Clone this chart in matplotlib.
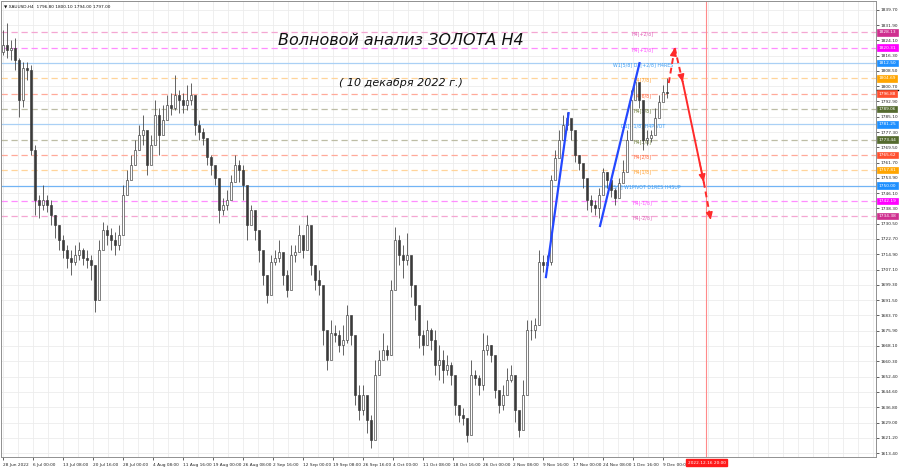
import numpy as np
import matplotlib
matplotlib.use('Agg')
import matplotlib.pyplot as plt
from matplotlib.transforms import blended_transform_factory

# ---------------- data ----------------
header_text = "\u25BC XAUUSD,H4  1796.80 1800.10 1794.00 1797.00"
title_main = "Волновой анализ ЗОЛОТА H4"
title_date = "( 10 декабря 2022 г.)"
cursor_date = "2022.12.16 20:00"

opens = [
    1818.0, 1821.7, 1819.1, 1820.2, 1814.0, 1793.6, 1809.9, 1808.9, 1768.1, 1742.6,
    1740.0, 1742.6, 1740.0, 1734.9, 1729.8, 1722.1, 1717.0, 1713.0, 1710.9, 1714.5,
    1717.0, 1713.0, 1711.9, 1709.4, 1691.5, 1717.0, 1727.3, 1724.7, 1722.1, 1719.6,
    1724.7, 1745.1, 1752.8, 1760.4, 1768.1, 1775.7, 1778.3, 1760.4, 1770.6, 1786.0,
    1775.7, 1783.4, 1791.1, 1789.5, 1796.2, 1793.6, 1791.1, 1793.6, 1796.2, 1780.8,
    1777.3, 1774.2, 1764.5, 1760.4, 1753.8, 1737.5, 1740.0, 1742.6, 1751.8, 1760.4,
    1757.9, 1750.2, 1729.8, 1737.5, 1727.3, 1717.0, 1704.3, 1694.1, 1710.9, 1713.0,
    1716.0, 1704.3, 1696.6, 1714.5, 1716.0, 1724.7, 1717.0, 1729.8, 1709.4, 1701.7,
    1699.1, 1676.2, 1660.9, 1674.7, 1673.6, 1668.5, 1671.1, 1683.8, 1673.6, 1643.0,
    1635.4, 1643.0, 1630.2, 1620.0, 1653.2, 1660.9, 1666.0, 1663.4, 1696.6, 1722.1,
    1714.5, 1711.9, 1714.5, 1699.1, 1688.9, 1673.6, 1668.5, 1676.2, 1671.1, 1658.3,
    1660.9, 1655.8, 1658.3, 1653.2, 1637.9, 1632.8, 1631.3, 1622.6, 1653.2, 1651.7,
    1648.1, 1666.0, 1668.5, 1663.4, 1645.6, 1637.9, 1643.0, 1650.7, 1653.2, 1635.4,
    1625.1, 1643.0, 1676.2, 1676.2, 1678.7, 1710.9, 1709.4, 1710.9, 1752.8, 1764.0,
    1773.2, 1780.8, 1784.4, 1778.3, 1765.5, 1761.5, 1753.8, 1742.6, 1740.0, 1738.5,
    1745.1, 1756.9, 1752.8, 1747.7, 1743.6, 1751.2, 1756.9, 1773.2, 1793.6, 1802.8,
    1793.6, 1773.2, 1774.2, 1775.7, 1784.4, 1792.6, 1797.7]

highs = [
    1829.3, 1832.9, 1824.2, 1825.3, 1815.0, 1813.0, 1813.0, 1811.5, 1770.6, 1745.1,
    1750.2, 1745.1, 1742.6, 1734.9, 1729.8, 1724.7, 1719.6, 1717.0, 1719.6, 1721.1,
    1718.1, 1717.0, 1714.5, 1706.8, 1722.1, 1731.3, 1729.8, 1728.3, 1726.2, 1729.8,
    1750.2, 1757.9, 1765.5, 1773.2, 1780.8, 1786.0, 1773.2, 1775.7, 1793.6, 1789.5,
    1791.1, 1796.2, 1797.2, 1806.4, 1798.7, 1797.2, 1801.3, 1802.3, 1793.6, 1783.4,
    1779.3, 1770.6, 1765.5, 1758.9, 1747.7, 1743.6, 1747.7, 1755.3, 1765.5, 1763.0,
    1760.4, 1742.6, 1740.0, 1732.4, 1722.1, 1714.5, 1704.3, 1714.5, 1717.0, 1722.1,
    1711.9, 1706.8, 1719.6, 1719.6, 1729.8, 1722.1, 1734.9, 1722.1, 1709.4, 1706.8,
    1691.5, 1671.1, 1681.3, 1678.7, 1676.2, 1678.7, 1688.9, 1678.7, 1653.2, 1648.1,
    1648.1, 1637.9, 1632.8, 1660.9, 1666.0, 1674.7, 1668.5, 1701.7, 1728.8, 1724.7,
    1719.6, 1725.7, 1709.4, 1696.6, 1683.8, 1676.2, 1681.3, 1677.2, 1676.2, 1668.5,
    1666.0, 1663.4, 1659.9, 1643.0, 1637.9, 1636.4, 1630.2, 1660.9, 1655.8, 1653.2,
    1674.7, 1673.6, 1668.5, 1655.8, 1643.0, 1648.1, 1656.8, 1658.3, 1640.5, 1632.8,
    1650.7, 1681.3, 1681.3, 1682.3, 1717.0, 1714.5, 1714.5, 1755.3, 1768.1, 1778.3,
    1786.0, 1787.5, 1783.4, 1770.6, 1765.5, 1757.9, 1750.2, 1745.1, 1742.6, 1748.7,
    1758.9, 1756.9, 1751.8, 1748.7, 1753.8, 1763.0, 1778.3, 1798.7, 1805.4, 1801.3,
    1791.1, 1778.3, 1778.3, 1789.5, 1796.2, 1801.3, 1804.8]

lows = [
    1816.6, 1815.0, 1814.0, 1808.9, 1784.9, 1790.0, 1803.8, 1765.5, 1734.9, 1733.4,
    1737.5, 1736.4, 1729.8, 1723.2, 1717.0, 1713.0, 1707.9, 1704.3, 1709.4, 1711.9,
    1709.4, 1707.9, 1701.7, 1685.4, 1691.5, 1719.6, 1719.6, 1717.0, 1714.5, 1717.0,
    1737.5, 1747.7, 1755.3, 1760.4, 1768.1, 1770.6, 1755.3, 1764.0, 1773.2, 1765.5,
    1778.3, 1786.0, 1786.0, 1788.5, 1787.0, 1787.0, 1788.5, 1791.1, 1775.7, 1773.2,
    1770.6, 1760.4, 1755.3, 1750.2, 1730.8, 1734.9, 1737.5, 1747.7, 1752.8, 1751.8,
    1742.6, 1722.1, 1732.4, 1722.1, 1710.9, 1699.1, 1690.0, 1704.3, 1709.4, 1710.9,
    1699.1, 1693.0, 1709.4, 1710.9, 1718.1, 1713.0, 1722.1, 1704.3, 1696.6, 1694.1,
    1668.5, 1655.8, 1668.5, 1670.1, 1665.0, 1663.4, 1669.6, 1668.5, 1637.9, 1630.2,
    1632.8, 1623.6, 1615.9, 1640.5, 1653.2, 1661.9, 1660.9, 1663.4, 1711.9, 1709.4,
    1702.7, 1709.4, 1693.0, 1681.3, 1667.0, 1663.4, 1668.5, 1666.0, 1653.2, 1650.7,
    1649.2, 1653.2, 1648.1, 1632.8, 1629.2, 1627.7, 1619.0, 1645.6, 1648.1, 1643.0,
    1645.6, 1663.4, 1659.9, 1641.5, 1633.8, 1635.4, 1644.6, 1649.7, 1629.2, 1621.6,
    1630.2, 1668.5, 1671.1, 1672.1, 1678.7, 1705.8, 1706.8, 1709.4, 1760.4, 1768.1,
    1775.7, 1778.3, 1773.2, 1762.0, 1757.9, 1748.7, 1737.5, 1736.4, 1734.9, 1733.4,
    1752.8, 1748.7, 1744.1, 1740.0, 1747.7, 1751.8, 1760.4, 1783.4, 1796.2, 1789.5,
    1768.1, 1770.6, 1772.2, 1780.8, 1788.5, 1793.6, 1794.6]

closes = [
    1821.7, 1819.1, 1820.2, 1814.0, 1793.6, 1809.9, 1808.9, 1768.1, 1742.6, 1740.0,
    1742.6, 1740.0, 1734.9, 1729.8, 1722.1, 1717.0, 1713.0, 1710.9, 1714.5, 1717.0,
    1713.0, 1711.9, 1709.4, 1691.5, 1717.0, 1727.3, 1724.7, 1722.1, 1719.6, 1724.7,
    1745.1, 1752.8, 1760.4, 1768.1, 1775.7, 1778.3, 1760.4, 1770.6, 1786.0, 1775.7,
    1783.4, 1791.1, 1789.5, 1796.2, 1793.6, 1791.1, 1793.6, 1796.2, 1780.8, 1777.3,
    1774.2, 1764.5, 1760.4, 1753.8, 1737.5, 1740.0, 1742.6, 1751.8, 1760.4, 1757.9,
    1750.2, 1729.8, 1737.5, 1727.3, 1717.0, 1704.3, 1694.1, 1710.9, 1713.0, 1716.0,
    1704.3, 1696.6, 1714.5, 1716.0, 1724.7, 1717.0, 1729.8, 1709.4, 1701.7, 1699.1,
    1676.2, 1660.9, 1674.7, 1673.6, 1668.5, 1671.1, 1683.8, 1673.6, 1643.0, 1635.4,
    1643.0, 1630.2, 1620.0, 1653.2, 1660.9, 1666.0, 1663.4, 1696.6, 1722.1, 1714.5,
    1711.9, 1714.5, 1699.1, 1688.9, 1673.6, 1668.5, 1676.2, 1671.1, 1658.3, 1660.9,
    1655.8, 1658.3, 1653.2, 1637.9, 1632.8, 1631.3, 1622.6, 1653.2, 1651.7, 1648.1,
    1666.0, 1668.5, 1663.4, 1645.6, 1637.9, 1643.0, 1650.7, 1653.2, 1635.4, 1625.1,
    1643.0, 1676.2, 1676.2, 1678.7, 1710.9, 1709.4, 1710.9, 1752.8, 1764.0, 1773.2,
    1780.8, 1784.4, 1778.3, 1765.5, 1761.5, 1753.8, 1742.6, 1740.0, 1738.5, 1745.1,
    1756.9, 1752.8, 1747.7, 1743.6, 1751.2, 1756.9, 1773.2, 1793.6, 1802.8, 1793.6,
    1773.2, 1774.2, 1775.7, 1784.4, 1792.6, 1797.7, 1797.0]

xtick_labels = ["28 Jun 2022", "6 Jul 00:00", "13 Jul 08:00", "20 Jul 16:00", "28 Jul 00:00",
                "4 Aug 08:00", "11 Aug 16:00", "19 Aug 00:00", "26 Aug 08:00", "2 Sep 16:00",
                "12 Sep 00:00", "19 Sep 08:00", "26 Sep 16:00", "4 Oct 00:00", "11 Oct 08:00",
                "18 Oct 16:00", "26 Oct 00:00", "2 Nov 08:00", "9 Nov 16:00", "17 Nov 00:00",
                "24 Nov 08:00", "1 Dec 16:00", "9 Dec 00:00"]

ytick_values = [1839.70, 1831.90, 1824.10, 1816.30, 1808.50, 1800.70, 1792.90, 1785.10,
                1777.30, 1769.50, 1761.70, 1753.90, 1746.10, 1738.30, 1730.50, 1722.70,
                1714.90, 1707.10, 1699.30, 1691.50, 1683.70, 1675.90, 1668.10, 1660.30,
                1652.40, 1644.60, 1636.80, 1629.00, 1621.20, 1613.40]

level_values = [1828.13, 1820.31, 1812.50, 1804.69, 1796.88, 1789.06, 1781.25,
                1773.44, 1765.62, 1757.81, 1750.00, 1742.19, 1734.38]
level_names = ["H4[+2/8]", "H4[+1/8]", "W1[5/8] D1[+2/8] H4RES", "H4[7/8]", "H4[6/8]",
               "H4[5/8]", "D1[+1/8] H4PIVOT", "H4[3/8]", "H4[2/8]", "H4[1/8]",
               "M1[3/8] W1PIVOT D1RES H4SUP", "H4[-1/8]", "H4[-2/8]"]
bid_price = 1797.00

# wave lines (bar-position, price)
wave1_x = [545, 568]
wave1_y = [1702.7, 1787.5]
wave2_x = [599, 639]
wave2_y = [1728.8, 1813.0]
forecast_x = [668, 674, 682, 703, 710]
forecast_y = [1802.3, 1820.2, 1802.8, 1751.8, 1732.4]
cursor_x = 705

# ---------------- styles ----------------
box_colors = ['#cf2f8f', '#ff00ff', '#1e90ff', '#ffa500', '#ff5030', '#556b2f', '#1e90ff',
              '#556b2f', '#ff5030', '#ffa500', '#1e90ff', '#ff00ff', '#cf2f8f']
line_colors = ['#f4a6d2', '#ff8cff', '#aad0f5', '#ffd49a', '#ffaa9a', '#bdbda5', '#aad0f5',
               '#bdbda5', '#ffaa9a', '#ffd49a', '#72b4f5', '#ff8cff', '#f4a6d2']
line_styles = ['--', '--', '-', '--', '--', '--', '-', '--', '--', '--', '-', '--', '--']
text_colors = ['#e060b8', '#ff50ff', '#3d9df2', '#ffa030', '#ff6a40', '#6b7a3a', '#3d9df2',
               '#6b7a3a', '#ff6a40', '#ffa030', '#3d9df2', '#ff50ff', '#e060b8']

plt.rcParams['font.family'] = ['DejaVu Sans']
small = 3.1

fig = plt.figure(figsize=(9, 4.68), dpi=100)
fig.patch.set_facecolor('white')
ax = fig.add_axes([0.001, 0.0235, 0.972, 0.9744])
ax.set_xlim(0, 875)
ax.set_ylim(1611.4, 1844.2)

# grid
for gx in np.arange(2, 876, 15):
    ax.axvline(gx, color='#ececec', lw=0.6, zorder=0)
for gy in ytick_values:
    ax.axhline(gy, color='#ececec', lw=0.6, zorder=0)

# levels
for val, name, lc, ls, tc in zip(level_values, level_names, line_colors, line_styles, text_colors):
    if ls == '--':
        ax.axhline(val, color=lc, lw=0.9, linestyle=(0, (5, 3)), zorder=1)
    else:
        ax.axhline(val, color=lc, lw=0.9, zorder=1)
    ax.text(642, val - 0.9, name, color=tc, fontsize=3.4, ha='center', va='center', zorder=2)

# candles
n = len(closes)
bx = 2 + 4 * np.arange(n)
o = np.array(opens); h = np.array(highs); l = np.array(lows); c = np.array(closes)
ax.vlines(bx, l, h, color='#4a4a4a', lw=0.6, zorder=3)
up = c >= o
ax.bar(bx[up], (c - o)[up], bottom=o[up], width=2.0, facecolor='white',
       edgecolor='#3a3a3a', linewidth=0.45, zorder=4)
ax.bar(bx[~up], (o - c)[~up], bottom=c[~up], width=2.0, facecolor='#3a3a3a',
       edgecolor='#3a3a3a', linewidth=0.45, zorder=4)

# blue waves
ax.plot(wave1_x, wave1_y, color='#2448ff', lw=1.6, zorder=5, solid_capstyle='butt')
ax.plot(wave2_x, wave2_y, color='#2448ff', lw=1.6, zorder=5, solid_capstyle='butt')

# red forecast
seg_styles = ['--', '--', '-', '--']
red = '#ff2a2a'
for i, ls in enumerate(seg_styles):
    x0, y0, x1, y1 = forecast_x[i], forecast_y[i], forecast_x[i + 1], forecast_y[i + 1]
    ax.plot([x0, x1], [y0, y1], color=red, lw=1.4, linestyle=(0, (3, 2)) if ls == '--' else '-',
            zorder=5)
    ax.annotate('', xy=(x1, y1), xytext=(x0 + (x1 - x0) * 0.8, y0 + (y1 - y0) * 0.8),
                arrowprops=dict(arrowstyle='-|>,head_length=0.45,head_width=0.2', color=red,
                                lw=1.0, shrinkA=0, shrinkB=0), zorder=6)

# cursor vertical
ax.axvline(cursor_x, color='#ff8a8a', lw=0.8, zorder=1)

# axes formatting
ax.yaxis.tick_right()
ax.set_yticks(ytick_values)
ax.set_yticklabels([f"{v:.2f}" for v in ytick_values])
ax.tick_params(axis='y', labelsize=small, length=2, width=0.5, pad=1.5, colors='#222222')
xt = np.arange(2, 2 + 30 * len(xtick_labels), 30)
ax.set_xticks(xt)
ax.set_xticklabels(xtick_labels, ha='left')
ax.tick_params(axis='x', labelsize=small, length=2, width=0.5, pad=2, colors='#222222')
for sp in ax.spines.values():
    sp.set_color('#909090')
    sp.set_linewidth(0.7)

# right axis price boxes
tr = blended_transform_factory(ax.transAxes, ax.transData)
ax.plot([1.0015, 1.026], [bid_price + 1.6, bid_price + 1.6], transform=tr, color='black',
        lw=1.0, clip_on=False, zorder=6)
for val, bc in zip(level_values, box_colors):
    ax.text(1.0035, val, f"{val:.2f}", transform=tr, fontsize=small, color='white',
            ha='left', va='center', clip_on=False, zorder=7,
            bbox=dict(boxstyle='square,pad=0.3', fc=bc, ec=bc, lw=0.5))

# cursor date label
trx = blended_transform_factory(ax.transData, ax.transAxes)
ax.text(cursor_x + 1, -0.0125, cursor_date, transform=trx, fontsize=small, color='white',
        ha='center', va='center', clip_on=False, zorder=7,
        bbox=dict(boxstyle='square,pad=0.35', fc='#ff1a1a', ec='#ff1a1a'))

# header and titles
ax.text(0.003, 0.988, header_text, transform=ax.transAxes, fontsize=small, color='#111111',
        ha='left', va='center', zorder=7)
ax.text(400, 1824.0, title_main, fontsize=11.5, style='italic', color='#111111',
        ha='center', va='center', zorder=7)
ax.text(400, 1802.2, title_date, fontsize=8, style='italic', color='#111111',
        ha='center', va='center', zorder=7)

fig.savefig('out.png', dpi=100, facecolor='white')
